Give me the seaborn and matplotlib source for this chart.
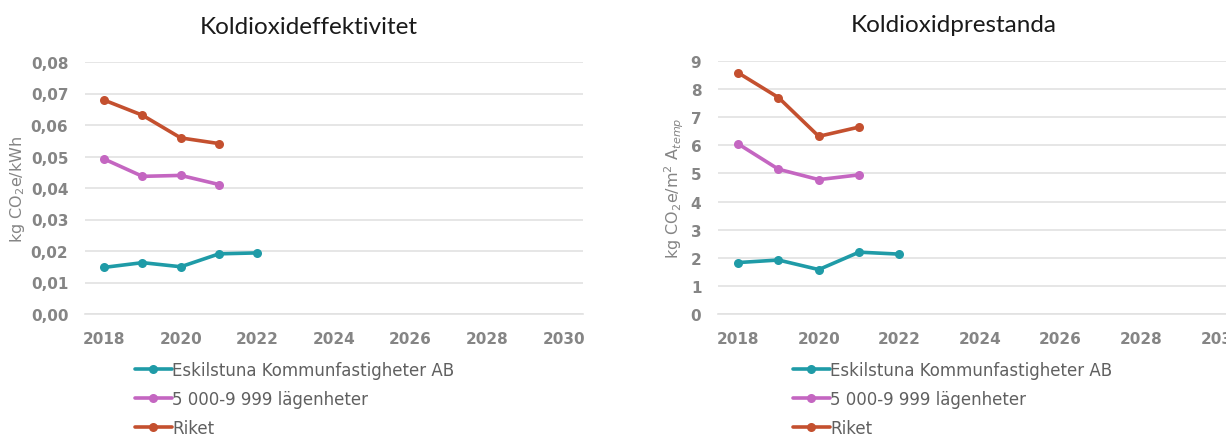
import pandas as pd
import seaborn as sns
import matplotlib.pyplot as plt
from matplotlib.ticker import FuncFormatter, MultipleLocator

# data
series = ['Eskilstuna Kommunfastigheter AB', '5 000-9 999 lägenheter', 'Riket']
colors = ['#1f9ba7', '#c466c1', '#c4502f']

years_esk = [2018, 2019, 2020, 2021, 2022]
years_other = [2018, 2019, 2020, 2021]

eff_esk = [0.0148, 0.0163, 0.0150, 0.0191, 0.0194]
eff_lgh = [0.0492, 0.0437, 0.0440, 0.0411]
eff_riket = [0.0679, 0.0631, 0.0559, 0.0541]

pre_esk = [1.83, 1.92, 1.58, 2.20, 2.13]
pre_lgh = [6.05, 5.15, 4.78, 4.95]
pre_riket = [8.58, 7.70, 6.32, 6.65]

def long_df(esk, lgh, riket):
    rows = []
    for y, v in zip(years_esk, esk):
        rows.append((y, v, series[0]))
    for y, v in zip(years_other, lgh):
        rows.append((y, v, series[1]))
    for y, v in zip(years_other, riket):
        rows.append((y, v, series[2]))
    return pd.DataFrame(rows, columns=['year', 'value', 'serie'])

df_eff = long_df(eff_esk, eff_lgh, eff_riket)
df_pre = long_df(pre_esk, pre_lgh, pre_riket)

sns.set_theme(style='white')
plt.rcParams['font.family'] = ['DejaVu Sans']

fig = plt.figure(figsize=(12.26, 4.39), dpi=100)
ax1 = fig.add_axes([85 / 1226, 1 - 315 / 439, 498 / 1226, 252 / 439])
ax2 = fig.add_axes([718 / 1226, 1 - 315 / 439, 524 / 1226, 253 / 439])

tick_grey = '#858585'
grid_grey = '#e2e2e2'

for ax, df, ylim, ystep, ylab in [
    (ax1, df_eff, 0.08, 0.01, 'kg CO$_2$e/kWh'),
    (ax2, df_pre, 9, 1, 'kg CO$_2$e/m$^2$ A$_{temp}$'),
]:
    sns.lineplot(data=df, x='year', y='value', hue='serie', hue_order=series,
                 palette=colors, marker='o', markersize=6.5, markeredgewidth=0,
                 linewidth=2.6, ax=ax)
    ax.set_xlim(2017.5, 2030.5)
    ax.set_ylim(0, ylim)
    ax.yaxis.set_major_locator(MultipleLocator(ystep))
    ax.xaxis.set_major_locator(MultipleLocator(2))
    ax.xaxis.set_minor_locator(MultipleLocator(1))
    ax.grid(axis='y', color=grid_grey, linewidth=1.2)
    ax.set_axisbelow(True)
    for s in ['top', 'right', 'left']:
        ax.spines[s].set_visible(False)
    ax.spines['bottom'].set_color(grid_grey)
    ax.spines['bottom'].set_linewidth(1.2)
    ax.tick_params(axis='x', which='both', direction='in', length=4,
                   color=grid_grey, labelcolor=tick_grey, labelsize=11, pad=12)
    ax.tick_params(axis='y', length=0, labelcolor=tick_grey, labelsize=11, pad=12)
    ax.set_xlabel('')
    ax.set_ylabel(ylab, color=tick_grey, fontsize=11.5, labelpad=3)
    for lab in ax.get_xticklabels() + ax.get_yticklabels():
        lab.set_fontweight('bold')

ax1.yaxis.set_major_formatter(FuncFormatter(lambda v, p: f'{v:.2f}'.replace('.', ',')))
ax2.yaxis.set_major_formatter(FuncFormatter(lambda v, p: f'{v:.0f}'))

for ax, x0 in [(ax1, 135 / 1226), (ax2, 793 / 1226)]:
    handles, labels = ax.get_legend_handles_labels()
    ax.legend(handles, labels, loc='upper left', bbox_to_anchor=(x0, 1 - 362 / 439),
              bbox_transform=fig.transFigure, frameon=False, fontsize=12,
              handlelength=2.2, handletextpad=0.05, labelspacing=0.66,
              borderaxespad=0, borderpad=0, labelcolor='#606060')

title_font = ['Lato', 'DejaVu Sans']
fig.text(309 / 1226, 1 - 28 / 439, 'Koldioxideffektivitet', ha='center', va='center',
         fontsize=17.5, family=title_font, color='#1a1a1a')
fig.text(954 / 1226, 1 - 26 / 439, 'Koldioxidprestanda', ha='center', va='center',
         fontsize=17.5, family=title_font, color='#1a1a1a')

fig.savefig('out.png', dpi=100)
